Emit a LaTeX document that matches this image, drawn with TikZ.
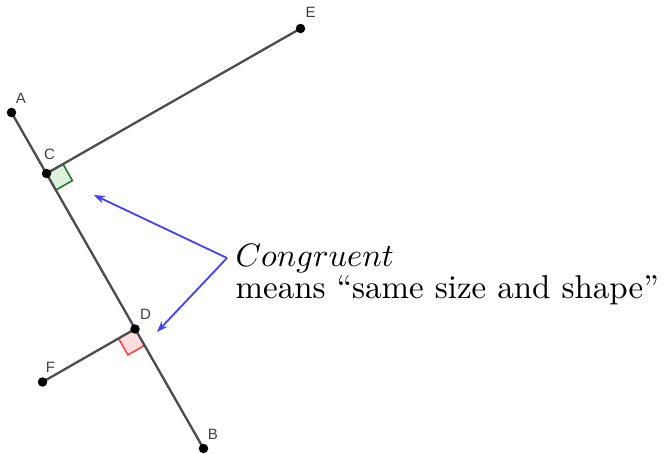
\documentclass[tikz,border=0pt]{standalone}
\usepackage{fontspec}
\newfontfamily\labfont{Liberation Sans}
\usetikzlibrary{calc,arrows.meta}
\definecolor{segcol}{RGB}{77,77,77}
\definecolor{arrcol}{RGB}{64,64,255}
\definecolor{grnline}{RGB}{40,120,40}
\definecolor{grnfill}{RGB}{222,240,222}
\definecolor{redline}{RGB}{255,70,70}
\definecolor{redfill}{RGB}{255,222,222}
\definecolor{labcol}{RGB}{64,64,64}
\tikzset{
  seg/.style={draw=segcol, line width=2.3pt},
  dot/.style={circle, fill=black, inner sep=0pt, minimum size=9.5pt},
  ptlabel/.style={font=\labfont\fontsize{15}{17}\selectfont, text=labcol, inner sep=0pt},
  greenmark/.style={draw=grnline, fill=grnfill, line width=1.6pt},
  redmark/.style={draw=redline, fill=redfill, line width=1.6pt},
  pointer/.style={draw=arrcol, line width=1.8pt, -{Stealth[length=11pt,width=8pt]}},
  bigtext/.style={font=\fontsize{10}{12}\selectfont, inner sep=0pt, anchor=base west}
}
\begin{document}
\begin{tikzpicture}[x=1pt,y=-1pt]
\useasboundingbox (0,0) rectangle (667,453);
% point positions
\coordinate (A) at (11.5,112.5);
\coordinate (B) at (203.5,448.5);
\coordinate (C) at (46.5,173.5);
\coordinate (D) at (135,329);
\coordinate (E) at (300.5,28.5);
\coordinate (F) at (42.5,382);
\coordinate (V) at (227,258);
\coordinate (T1) at (94,195);
\coordinate (T2) at (157,332);
% right angle marks
\coordinate (ca) at ($(C)!19pt!(E)$);
\coordinate (cb) at ($(C)!19pt!(B)$);
\coordinate (cc) at ($(ca)+(cb)-(C)$);
\coordinate (da) at ($(D)!19pt!(F)$);
\coordinate (db) at ($(D)!19pt!(B)$);
\coordinate (dc) at ($(da)+(db)-(D)$);
\path[greenmark] (C) -- (ca) -- (cc) -- (cb) -- cycle;
\path[redmark] (D) -- (da) -- (dc) -- (db) -- cycle;
% segments
\draw[seg] (A) -- (B);
\draw[seg] (C) -- (E);
\draw[seg] (D) -- (F);
% points
\foreach \p in {A,B,C,D,E,F} \node[dot] (dot\p) at (\p) {};
% labels
\node[ptlabel] (labA) at (21,98) {A};
\node[ptlabel] (labC) at (49.5,154) {C};
\node[ptlabel] (labE) at (310.5,12.5) {E};
\node[ptlabel] (labD) at (145.5,314) {D};
\node[ptlabel] (labF) at (50.5,367) {F};
\node[ptlabel] (labB) at (213,434) {B};
% arrows
\draw[pointer] (V) -- (T1);
\draw[pointer] (V) -- (T2);
% text
\node[bigtext, scale=3.25] (cong) at (235,266) {$Congruent$};
\node[bigtext, scale=3.3] (means) at (235,298) {means ``same size and shape''};
\end{tikzpicture}
\end{document}
